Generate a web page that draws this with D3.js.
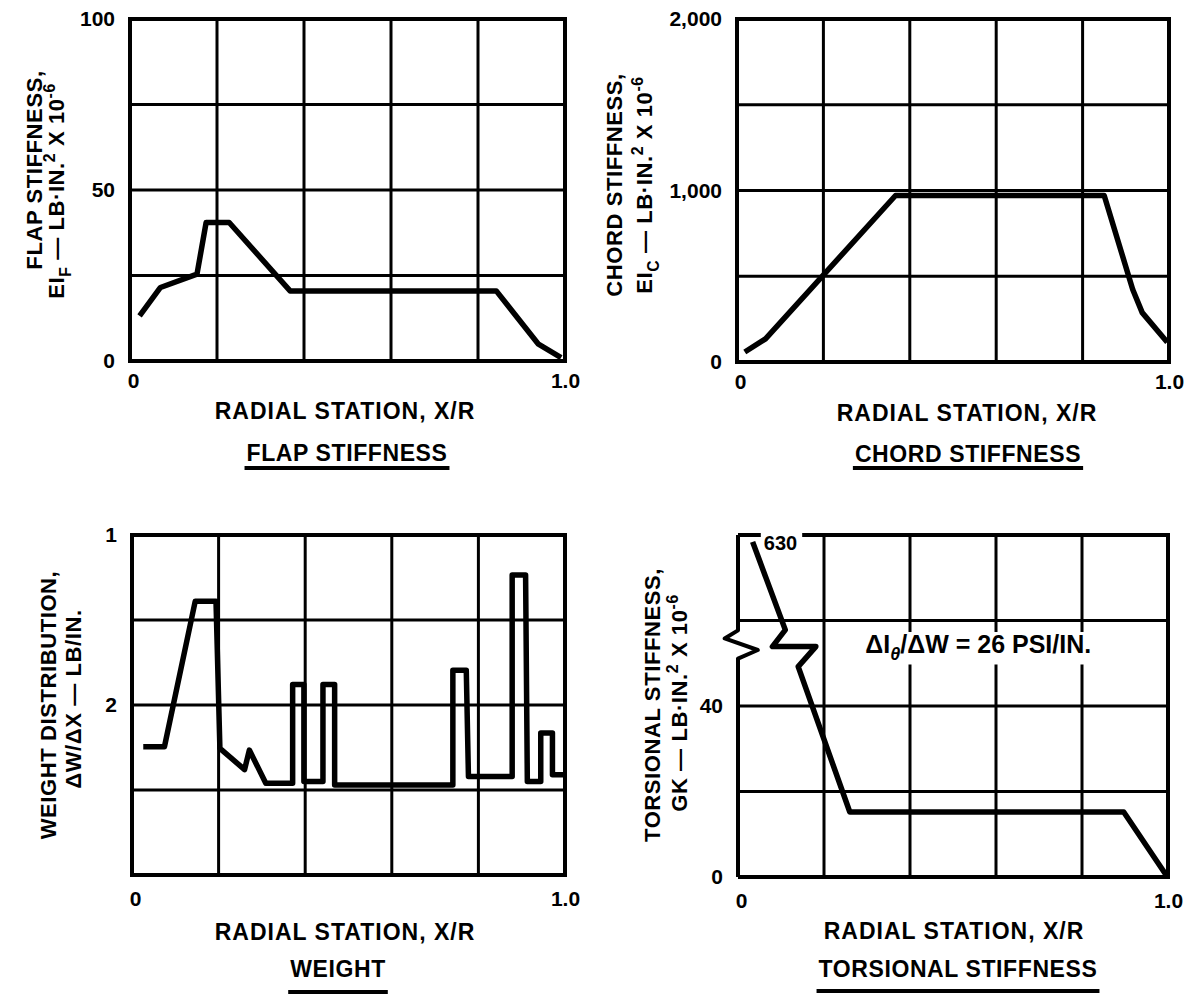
<!DOCTYPE html>
<html>
<head>
<meta charset="utf-8">
<script src="https://cdn.jsdelivr.net/npm/d3@7"></script>
<style>
  body { margin: 0; background: #fff; }
  svg text { font-family: "Liberation Sans", Arial, sans-serif; font-weight: bold; fill: #000; }
</style>
</head>
<body>
<div id="chart"></div>
<script>
// Page size
var w = 1189,
    h = 995;

// Radial station X/R shared by all four panels
var xTicks = [0, 1],
    xTickLabels = ["0", "1.0"],
    xGrid = [0.2, 0.4, 0.6, 0.8];

// Flap stiffness, EI_F x 10^-6
var flapX = [0.022, 0.070, 0.154, 0.175, 0.228, 0.368, 0.842, 0.939, 0.991],
    flapEI = [13.2, 21.5, 25.4, 40.5, 40.5, 20.5, 20.5, 4.9, 1.0],
    flapTicks = [0, 50, 100],
    flapTickLabels = ["0", "50", "100"],
    flapGrid = [25, 50, 75];

// Chord stiffness, EI_C x 10^-6
var chordX = [0.018, 0.066, 0.367, 0.850, 0.916, 0.938, 0.996],
    chordEI = [58, 135, 971, 971, 423, 288, 115],
    chordTicks = [0, 1000, 2000],
    chordTickLabels = ["0", "1,000", "2,000"],
    chordGrid = [500, 1000, 1500];

// Weight distribution, dW/dX lb/in.
var weightX = [0.026, 0.075, 0.146, 0.194, 0.203, 0.260, 0.271, 0.309, 0.371, 0.371,
               0.397, 0.397, 0.441, 0.441, 0.468, 0.468, 0.741, 0.741, 0.772, 0.777,
               0.878, 0.878, 0.909, 0.913, 0.944, 0.944, 0.971, 0.971, 1.0],
    weightW = [1.51, 1.51, 3.22, 3.22, 1.49, 1.24, 1.47, 1.08, 1.08, 2.24,
               2.24, 1.10, 1.10, 2.24, 2.24, 1.06, 1.06, 2.41, 2.41, 1.16,
               1.16, 3.53, 3.53, 1.10, 1.10, 1.67, 1.67, 1.18, 1.18],
    weightTicks = [2, 4],
    weightTickLabels = ["2", "1"],
    weightGrid = [1, 2, 3];

// Torsional stiffness, GK x 10^-6 (top of the curve runs off to 630)
var torsionX = [0.034, 0.110, 0.080, 0.181, 0.140, 0.260, 0.897, 0.996],
    torsionGK = [78.4, 57.8, 53.9, 53.9, 49.2, 15.2, 15.2, 0.4],
    torsionTicks = [0, 40],
    torsionTickLabels = ["0", "40"],
    torsionGrid = [20, 40, 60],
    // zigzag break drawn in the left axis
    breakX = [0, 0, 0.046, -0.031, 0, 0],
    breakGK = [0, 51.1, 53.1, 55.8, 57.7, 80];

var svg = d3.select("#chart")
    .append("svg")
    .attr("width", w)
    .attr("height", h);

svg.append("rect").attr("width", w).attr("height", h).attr("fill", "#fff");

// Write a label made of normal (0), subscript (1) and superscript (2) pieces.
function richText(sel, parts, size) {
    var shift = 0;
    parts.forEach(function (p) {
        var target = p[1] === 1 ? size * 0.3 : p[1] === 2 ? -size * 0.42 : 0;
        sel.append("tspan")
            .attr("dy", target - shift)
            .style("font-size", (p[1] ? size * 0.72 : size) + "px")
            .style("font-style", p[2] ? "italic" : null)
            .text(p[0]);
        shift = target;
    });
}

var panels = [{
        name: "FLAP STIFFNESS", left: 130, right: 565, top: 19, bottom: 361, yMax: 100,
        xs: flapX, ys: flapEI, ticks: flapTicks, tickLabels: flapTickLabels, grid: flapGrid,
        label1: "FLAP STIFFNESS,",
        label2: [["EI", 0], ["F", 1], [" \u2014 LB\u00b7IN.", 0], ["2", 2], [" X 10", 0], ["-6", 2]],
        l1x: 42, l1y: 170, l2x: 64, l2y: 191,
        xPad: 12, radialX: 345, radialY: 419, titleX: 347, titleY: 461, underY: 468
    },
    {
        name: "CHORD STIFFNESS", left: 737, right: 1169, top: 19, bottom: 362, yMax: 2000,
        xs: chordX, ys: chordEI, ticks: chordTicks, tickLabels: chordTickLabels, grid: chordGrid,
        label1: "CHORD STIFFNESS,",
        label2: [["EI", 0], ["C", 1], [" \u2014 LB\u00b7IN.", 0], ["2", 2], [" X 10", 0], ["-6", 2]],
        l1x: 622, l1y: 185, l2x: 652, l2y: 185,
        xPad: 12, radialX: 967, radialY: 421, titleX: 968, titleY: 462, underY: 468
    },
    {
        name: "WEIGHT", left: 132, right: 565, top: 535, bottom: 875, yMax: 4,
        xs: weightX, ys: weightW, ticks: weightTicks, tickLabels: weightTickLabels, grid: weightGrid,
        label1: "WEIGHT DISTRIBUTION,",
        label2: [["\u0394W/\u0394X \u2014 LB/IN.", 0]],
        l1x: 56, l1y: 705, l2x: 81, l2y: 699,
        xPad: 16, radialX: 345, radialY: 940, titleX: 338, titleY: 977, underY: 992
    },
    {
        name: "TORSIONAL STIFFNESS", left: 738, right: 1168, top: 535, bottom: 877, yMax: 80,
        xs: torsionX, ys: torsionGK, ticks: torsionTicks, tickLabels: torsionTickLabels, grid: torsionGrid,
        label1: "TORSIONAL STIFFNESS,",
        label2: [["GK \u2014 LB\u00b7IN.", 0], ["2", 2], [" X 10", 0], ["-6", 2]],
        l1x: 660, l1y: 705, l2x: 687, l2y: 703,
        xPad: 16, radialX: 954, radialY: 939, titleX: 958, titleY: 977, underY: 991,
        broken: true
    }
];

panels.forEach(function (p) {
    var x = d3.scaleLinear().domain([0, 1]).range([p.left, p.right]),
        y = d3.scaleLinear().domain([0, p.yMax]).range([p.bottom, p.top]),
        line = d3.line().x(function (d) { return x(d[0]); }).y(function (d) { return y(d[1]); }),
        g = svg.append("g");

    // grid
    g.selectAll("line.vgrid").data(xGrid).enter().append("line")
        .attr("x1", x).attr("x2", x).attr("y1", p.top).attr("y2", p.bottom)
        .attr("stroke", "#000").attr("stroke-width", 3);
    g.selectAll("line.hgrid").data(p.grid).enter().append("line")
        .attr("x1", p.left).attr("x2", p.right).attr("y1", y).attr("y2", y)
        .attr("stroke", "#000").attr("stroke-width", 3);

    // inertia note with a white box over the grid (torsion panel only)
    if (p.broken) {
        var note = g.append("text")
            .attr("x", x(0.296)).attr("y", y(52.4))
            .style("font-size", "25px");
        richText(note, [["\u0394I", 0], ["\u03b8", 1, true], ["/\u0394W = 26 PSI/IN.", 0]], 25);
        var nb = note.node().getBBox();
        g.insert("rect", function () { return note.node(); })
            .attr("x", nb.x - 7).attr("y", nb.y + 2)
            .attr("width", nb.width + 14).attr("height", nb.height - 2)
            .attr("fill", "#fff");
    }

    // frame
    if (p.broken) {
        g.append("path")
            .attr("d", "M" + x(0) + "," + y(p.yMax) + "H" + x(1) + "V" + y(0) + "H" + x(0))
            .attr("fill", "none").attr("stroke", "#000").attr("stroke-width", 4);
        g.append("path")
            .datum(d3.zip(breakX, breakGK))
            .attr("d", line)
            .attr("fill", "none").attr("stroke", "#000").attr("stroke-width", 4)
            .attr("stroke-linejoin", "round");
    } else {
        g.append("rect")
            .attr("x", p.left).attr("y", p.top)
            .attr("width", p.right - p.left).attr("height", p.bottom - p.top)
            .attr("fill", "none").attr("stroke", "#000").attr("stroke-width", 4);
    }

    // tick labels through d3 axes
    var ya = g.append("g")
        .attr("transform", "translate(" + p.left + ",0)")
        .call(d3.axisLeft(y).tickValues(p.ticks).tickSize(0).tickPadding(15)
            .tickFormat(function (d, i) { return p.tickLabels[i]; }));
    var xa = g.append("g")
        .attr("transform", "translate(0," + p.bottom + ")")
        .call(d3.axisBottom(x).tickValues(xTicks).tickSize(0).tickPadding(p.xPad)
            .tickFormat(function (d, i) { return xTickLabels[i]; }));
    [ya, xa].forEach(function (a) {
        a.select(".domain").remove();
        a.selectAll("text").attr("font-family", null).style("font-size", "21px").attr("fill", "#000");
    });
    xa.selectAll(".tick text").attr("dx", function (d) { return d === 0 ? 3 : 0; });

    // the curve
    g.append("path")
        .datum(d3.zip(p.xs, p.ys))
        .attr("d", line)
        .attr("fill", "none").attr("stroke", "#000").attr("stroke-width", 5.5)
        .attr("stroke-linejoin", "round");

    // y titles
    g.append("text")
        .attr("transform", "translate(" + p.l1x + "," + p.l1y + ") rotate(-90)")
        .attr("text-anchor", "middle").style("font-size", "22px").style("letter-spacing", "0.6px")
        .text(p.label1);
    var t2 = g.append("text")
        .attr("transform", "translate(" + p.l2x + "," + p.l2y + ") rotate(-90)")
        .attr("text-anchor", "middle").style("letter-spacing", "0.6px");
    richText(t2, p.label2, 22);

    // x title, panel title and its underline
    g.append("text")
        .attr("x", p.radialX).attr("y", p.radialY)
        .attr("text-anchor", "middle").style("font-size", "23px").style("letter-spacing", "1px")
        .text("RADIAL STATION, X/R");
    var tt = g.append("text")
        .attr("x", p.titleX).attr("y", p.titleY)
        .attr("text-anchor", "middle").style("font-size", "23px").style("letter-spacing", "0.6px")
        .text(p.name);
    var tw = tt.node().getComputedTextLength();
    g.append("rect")
        .attr("x", p.titleX - tw / 2 - 2).attr("y", p.underY - 2)
        .attr("width", tw + 4).attr("height", 4).attr("fill", "#000");

    if (p.broken) {
        // "630" sits on the top edge where the curve leaves the chart
        var lab = g.append("text")
            .attr("x", x(0.06)).attr("y", y(p.yMax) + 15)
            .style("font-size", "20px").text("630");
        var b = lab.node().getBBox();
        g.insert("rect", function () { return lab.node(); })
            .attr("x", b.x - 3).attr("y", y(p.yMax) - 5)
            .attr("width", b.width + 8).attr("height", 10).attr("fill", "#fff");
    }
});
</script>
</body>
</html>
